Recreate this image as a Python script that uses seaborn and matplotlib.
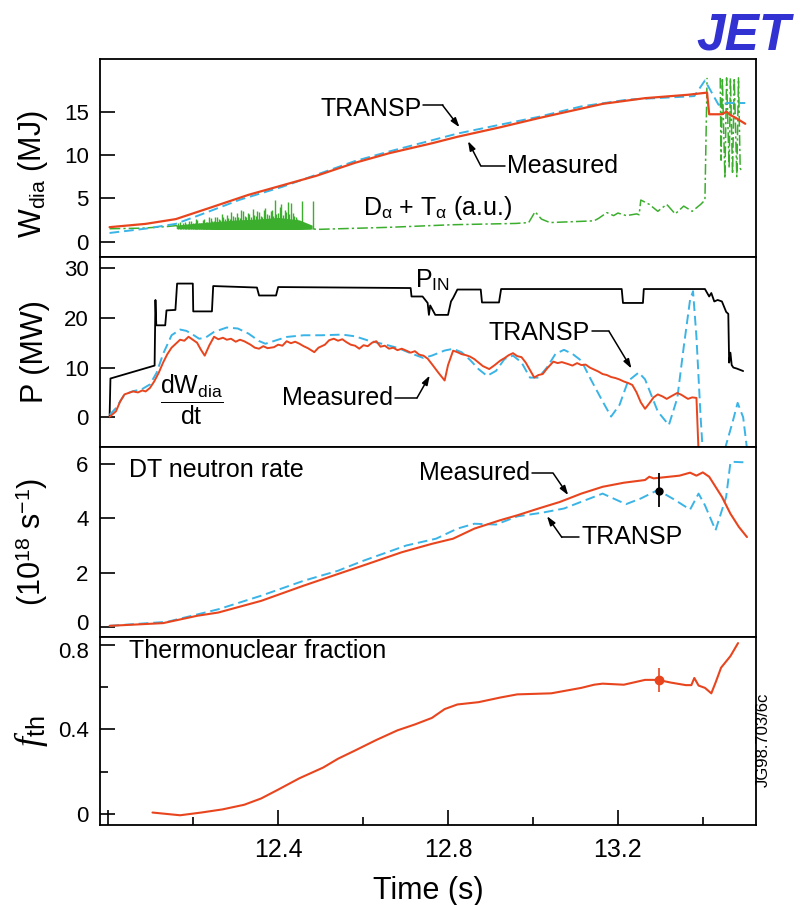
import numpy as np
import pandas as pd
import matplotlib
matplotlib.use('Agg')
from matplotlib import pyplot as plt
from matplotlib.transforms import ScaledTranslation
import seaborn as sns

RED = '#e8451e'
BLUE = '#3ab4e6'
GREEN = '#3cae2e'

# ---- panel 1: diamagnetic energy W_dia (MJ)
t_w_meas = [12.003, 12.088, 12.159, 12.239, 12.33, 12.41, 12.49, 12.581, 12.661, 12.762,
            12.822, 12.923, 13.013, 13.063, 13.164, 13.264, 13.365, 13.41, 13.415, 13.445,
            13.456, 13.465, 13.477, 13.50]
w_meas = [1.67, 2.05, 2.6, 3.9, 5.4, 6.5, 7.6, 9.1, 10.2, 11.35,
          12.1, 13.2, 14.25, 14.8, 15.9, 16.56, 16.95, 17.2, 14.7, 14.7,
          15.0, 14.6, 14.3, 13.6]
t_w_tr = [12.003, 12.088, 12.159, 12.22, 12.31, 12.41, 12.581, 12.661, 12.822, 12.923,
          13.013, 13.113, 13.224, 13.345, 13.38, 13.405, 13.437, 13.46, 13.50]
w_tr = [1.0, 1.5, 2.05, 3.16, 4.84, 6.33, 9.3, 10.4, 12.47, 13.5,
        14.4, 15.6, 16.4, 16.7, 16.8, 18.6, 15.8, 16.0, 16.0]

# D-alpha + T-alpha trace (a.u.)
t_da = [12.003, 12.08, 12.14, 12.16, 12.17, 12.3, 12.48, 12.49, 12.66, 12.81,
        12.96, 12.99, 13.005, 13.02, 13.04, 13.144, 13.155, 13.174, 13.19, 13.2,
        13.22, 13.244, 13.25, 13.254, 13.274, 13.294, 13.315, 13.335, 13.355, 13.375,
        13.395, 13.405, 13.41]
da = [1.49, 1.55, 1.75, 1.85, 1.6, 1.55, 1.5, 1.41, 1.65, 1.95,
      2.1, 2.2, 3.45, 2.6, 2.2, 2.4, 2.7, 3.35, 3.0, 3.3,
      3.0, 3.2, 3.1, 4.8, 4.3, 3.5, 4.3, 3.2, 4.1, 3.5,
      4.3, 4.8, 18.9]
t_da_end = [13.441, 13.443, 13.446, 13.452, 13.456, 13.462, 13.465, 13.47, 13.474, 13.48,
            13.484, 13.488, 13.491]
da_end = [18.9, 9.4, 18.9, 7.3, 18.9, 8.5, 18.9, 7.8, 18.9, 7.5,
          18.9, 8.5, 8.1]
# noisy ELM band 12.16-12.48 s: envelope plus individual spikes
t_da_env = [12.16, 12.2, 12.25, 12.3, 12.35, 12.4, 12.45, 12.48]
da_env_lo = [1.5, 1.45, 1.4, 1.4, 1.4, 1.4, 1.4, 1.45]
da_env_hi = [1.9, 2.1, 2.3, 2.5, 2.6, 2.8, 2.5, 1.9]
t_da_band = [12.165, 12.169, 12.172, 12.176, 12.18, 12.184, 12.187, 12.191, 12.195, 12.199,
             12.203, 12.207, 12.21, 12.214, 12.218, 12.222, 12.226, 12.23, 12.233, 12.237,
             12.241, 12.245, 12.249, 12.252, 12.256, 12.26, 12.264, 12.268, 12.271, 12.275,
             12.279, 12.283, 12.287, 12.29, 12.294, 12.298, 12.302, 12.306, 12.309, 12.313,
             12.317, 12.321, 12.325, 12.328, 12.332, 12.336, 12.34, 12.344, 12.347, 12.351,
             12.355, 12.359, 12.363, 12.366, 12.37, 12.374, 12.378, 12.382, 12.385, 12.389,
             12.392, 12.396, 12.40, 12.404, 12.407, 12.411, 12.415, 12.419, 12.422, 12.426,
             12.43, 12.434, 12.438, 12.442, 12.445, 12.457, 12.482]
da_band = [2.1, 2.3, 1.9, 2.2, 2.3, 2.0, 2.0, 2.4, 2.4, 2.1,
           2.2, 2.6, 2.5, 2.2, 2.1, 2.5, 2.6, 2.3, 2.3, 2.8,
           2.7, 2.4, 2.4, 2.9, 2.9, 2.6, 2.5, 3.2, 2.8, 2.6,
           3.1, 2.7, 2.6, 3.4, 3.0, 2.8, 3.3, 2.9, 2.7, 3.6,
           3.5, 3.0, 2.9, 3.3, 3.2, 2.9, 3.8, 3.1, 3.0, 3.5,
           3.4, 3.0, 2.8, 3.7, 3.9, 3.2, 3.1, 3.5, 3.6, 3.0,
           4.8, 3.2, 3.3, 4.0, 4.3, 3.1, 3.6, 3.4, 4.6, 3.2,
           4.5, 3.3, 3.0, 2.8, 2.6, 4.7, 4.7]

# ---- panel 2: power (MW)
t_pin = [12.003, 12.005, 12.109, 12.111, 12.113, 12.134, 12.137, 12.158, 12.162, 12.199,
         12.2, 12.244, 12.247, 12.35, 12.355, 12.395, 12.40, 12.712, 12.714, 12.74,
         12.752, 12.755, 12.758, 12.77, 12.80, 12.807, 12.812, 12.822, 12.877, 12.88,
         12.92, 12.925, 13.209, 13.212, 13.259, 13.261, 13.405, 13.415, 13.42, 13.427,
         13.435, 13.445, 13.455, 13.46, 13.462, 13.465, 13.468, 13.472, 13.48, 13.495]
p_in = [0, 7.8, 10.4, 23.6, 18.5, 18.5, 21.5, 21.6, 26.9, 26.9,
        21.3, 21.3, 26.4, 26.1, 24.5, 24.5, 26.2, 26.0, 24.3, 24.3,
        23.0, 20.6, 22.5, 20.6, 20.6, 23.3, 24.0, 25.7, 25.7, 23.1,
        23.1, 25.8, 25.8, 23.0, 23.0, 25.8, 25.8, 24.3, 25.0, 23.3,
        23.6, 23.3, 21.2, 20.8, 11.0, 13.0, 10.5, 10.0, 9.8, 9.3]
t_dw_meas = [12.003, 12.01, 12.018, 12.028, 12.038, 12.048, 12.058, 12.07, 12.08, 12.088,
             12.098, 12.108, 12.119, 12.129, 12.139, 12.149, 12.159, 12.169, 12.179, 12.189,
             12.199, 12.209, 12.218, 12.227, 12.238, 12.249, 12.259, 12.27, 12.279, 12.289,
             12.30, 12.31, 12.32, 12.335, 12.345, 12.355, 12.365, 12.375, 12.39, 12.40,
             12.41, 12.42, 12.43, 12.44, 12.45, 12.46, 12.47, 12.485, 12.495, 12.51,
             12.52, 12.531, 12.541, 12.551, 12.561, 12.571, 12.581, 12.591, 12.601, 12.611,
             12.621, 12.631, 12.641, 12.651, 12.661, 12.671, 12.681, 12.691, 12.702, 12.712,
             12.722, 12.732, 12.742, 12.752, 12.762, 12.777, 12.792, 12.80, 12.812, 12.822,
             12.832, 12.842, 12.852, 12.862, 12.872, 12.882, 12.897, 12.91, 12.923, 12.933,
             12.943, 12.953, 12.963, 12.973, 12.983, 12.993, 13.003, 13.013, 13.023, 13.033,
             13.048, 13.058, 13.068, 13.083, 13.093, 13.104, 13.114, 13.124, 13.134, 13.144,
             13.154, 13.164, 13.174, 13.184, 13.194, 13.204, 13.214, 13.224, 13.234, 13.244,
             13.254, 13.264, 13.274, 13.284, 13.294, 13.305, 13.315, 13.325, 13.34, 13.35,
             13.365, 13.375, 13.385, 13.39]
dw_meas = [0.1, 0.6, 1.2, 3.2, 4.6, 4.9, 5.2, 5.0, 5.4, 5.2,
           5.9, 7.2, 9.0, 11.0, 12.7, 14.0, 14.8, 15.6, 15.4, 16.2,
           15.6, 15.0, 13.6, 12.4, 14.5, 16.2, 15.7, 16.0, 15.6, 15.8,
           15.2, 15.6, 15.3, 14.6, 14.0, 13.8, 14.3, 13.9, 14.1, 14.6,
           14.4, 15.3, 14.9, 15.2, 14.8, 14.3, 13.9, 13.1, 14.0, 14.6,
           15.5, 15.8, 15.4, 15.7, 15.1, 14.6, 14.4, 13.8, 14.5, 14.3,
           15.0, 15.3, 14.2, 14.4, 13.8, 14.0, 13.5, 13.8, 13.4, 13.0,
           13.3, 12.6, 12.4, 11.8, 10.7, 9.0, 7.4, 10.5, 13.4, 13.1,
           12.7, 12.5, 12.2, 11.7, 11.0, 10.3, 9.7, 10.5, 11.4, 11.9,
           12.5, 12.9, 12.3, 12.1, 11.0, 9.5, 8.0, 8.5, 8.7, 9.8,
           11.2, 10.9, 11.1, 10.7, 10.4, 10.9, 10.5, 10.6, 10.0, 9.6,
           9.2, 8.7, 8.5, 8.1, 7.9, 7.6, 7.2, 6.9, 6.5, 5.0,
           3.0, 1.7, 2.8, 4.0, 4.6, 4.2, 3.7, 4.2, 4.9, 4.5,
           3.7, 4.0, 3.9, -7.0]
t_dw_tr = [12.003, 12.018, 12.038, 12.058, 12.078, 12.098, 12.114, 12.129, 12.149, 12.169,
           12.184, 12.199, 12.214, 12.229, 12.249, 12.279, 12.305, 12.33, 12.355, 12.37,
           12.39, 12.42, 12.46, 12.501, 12.551, 12.581, 12.611, 12.651, 12.681, 12.712,
           12.742, 12.762, 12.792, 12.812, 12.832, 12.852, 12.872, 12.892, 12.913, 12.933,
           12.953, 12.973, 12.993, 13.013, 13.033, 13.053, 13.073, 13.093, 13.114, 13.134,
           13.164, 13.184, 13.204, 13.224, 13.249, 13.264, 13.294, 13.32, 13.34, 13.355,
           13.37, 13.377, 13.385, 13.395, 13.40, 13.45, 13.47, 13.482, 13.495, 13.505]
dw_tr = [0.48, 1.84, 4.57, 5.25, 5.59, 6.61, 9.0, 12.75, 16.5, 17.65,
         17.38, 16.63, 15.8, 16.02, 17.18, 18.06, 17.86, 16.84, 15.34, 14.79,
         15.34, 16.16, 16.5, 16.5, 16.63, 16.29, 15.47, 14.66, 13.97, 12.88,
         11.93, 12.41, 13.43, 13.77, 13.09, 11.52, 9.68, 8.32, 9.34, 11.72,
         12.41, 11.04, 7.98, 7.98, 10.02, 12.75, 13.57, 12.75, 11.38, 7.98,
         3.2, 0.14, 2.52, 7.29, 9.0, 7.63, 1.16, -1.57, 3.89, 14.11,
         23.65, 25.36, 16.16, -0.2, -7.0, -7.0, -1.0, 2.9, 0.0, -7.0]

# ---- panel 3: DT neutron rate (1e18 /s)
t_n_meas = [12.003, 12.129, 12.209, 12.259, 12.36, 12.46, 12.541, 12.611, 12.691, 12.762,
            12.812, 12.862, 12.923, 12.963, 13.013, 13.063, 13.114, 13.164, 13.214, 13.264,
            13.274, 13.284, 13.345, 13.37, 13.385, 13.40, 13.415, 13.445, 13.465, 13.485,
            13.504]
n_meas = [0.04, 0.14, 0.41, 0.53, 0.96, 1.52, 1.95, 2.32, 2.75, 3.06,
          3.25, 3.62, 3.93, 4.11, 4.36, 4.6, 4.91, 5.16, 5.31, 5.41,
          5.53, 5.47, 5.57, 5.68, 5.57, 5.69, 5.53, 4.79, 4.17, 3.68,
          3.31]
t_n_tr = [12.003, 12.139, 12.259, 12.36, 12.46, 12.541, 12.601, 12.702, 12.772, 12.822,
          12.862, 12.913, 12.963, 13.023, 13.073, 13.124, 13.164, 13.219, 13.254, 13.294,
          13.335, 13.37, 13.39, 13.405, 13.43, 13.455, 13.465, 13.47, 13.50]
n_tr = [0.04, 0.19, 0.65, 1.15, 1.70, 2.07, 2.44, 3.0, 3.25, 3.62,
        3.8, 3.77, 4.07, 4.21, 4.36, 4.67, 4.91, 4.52, 4.73, 5.04,
        4.67, 4.32, 4.91, 4.48, 3.56, 4.79, 6.05, 6.08, 6.06]
t_n_err, n_err, n_err_lo, n_err_hi = 13.297, 5.0, 0.6, 0.68

# ---- panel 4: thermonuclear fraction
t_fth = [12.104, 12.169, 12.219, 12.269, 12.32, 12.36, 12.40, 12.45, 12.506, 12.541,
         12.581, 12.631, 12.681, 12.722, 12.762, 12.792, 12.822, 12.872, 12.923, 12.963,
         13.043, 13.114, 13.144, 13.164, 13.214, 13.264, 13.294, 13.325, 13.36, 13.373,
         13.38, 13.39, 13.405, 13.42, 13.43, 13.443, 13.465, 13.483]
fth = [0.005, -0.008, 0.005, 0.02, 0.042, 0.072, 0.114, 0.168, 0.219, 0.261,
       0.30, 0.35, 0.396, 0.424, 0.455, 0.497, 0.519, 0.53, 0.552, 0.567,
       0.572, 0.598, 0.613, 0.618, 0.613, 0.636, 0.636, 0.623, 0.611, 0.611,
       0.645, 0.609, 0.598, 0.572, 0.623, 0.694, 0.749, 0.811]
t_f_err, f_err, f_err_lo, f_err_hi = 13.297, 0.636, 0.059, 0.058


sns.set_style('ticks')
plt.rcParams['font.family'] = ['Liberation Sans', 'DejaVu Sans']
plt.rcParams['mathtext.fontset'] = 'custom'
plt.rcParams['mathtext.rm'] = 'Liberation Sans'
plt.rcParams['mathtext.it'] = 'Liberation Serif:italic'
plt.rcParams['mathtext.bf'] = 'Liberation Sans:bold'
for k in ['text.color', 'axes.labelcolor', 'xtick.color', 'ytick.color', 'axes.edgecolor']:
    plt.rcParams[k] = 'black'


def line(ax, t, y, color, lw=1.4, ls='-'):
    sns.lineplot(x=t, y=y, ax=ax, color=color, linewidth=lw, linestyle=ls,
                 estimator=None, sort=False, legend=False)


def leader(ax, p0, p1, p2):
    # horizontal tail from the label, then an arrow to the curve
    ax.plot([p0[0], p1[0]], [p0[1], p1[1]], color='black', lw=1.1)
    ax.annotate('', xy=p2, xytext=p1,
                arrowprops=dict(arrowstyle='-|>,head_length=0.55,head_width=0.18',
                                color='black', lw=1.1, shrinkA=0, shrinkB=0))


DASH = (0, (5, 2.5))
DASHDOT = (0, (7, 2, 1.5, 2))
TXT = 18

fig, axes = plt.subplots(4, 1, figsize=(8.05, 9.05), dpi=100, sharex=True,
                         gridspec_kw={'height_ratios': [198, 189, 190, 188], 'hspace': 0})
fig.subplots_adjust(left=0.124, right=0.939, top=0.935, bottom=0.088)
ax1, ax2, ax3, ax4 = axes

# panel 1
ax1.fill_between(t_da_env, da_env_lo, da_env_hi, color=GREEN, lw=0)
ax1.vlines(t_da_band, 1.4, da_band, color=GREEN, lw=1.0)
line(ax1, t_da, da, GREEN, lw=1.1, ls=DASHDOT)
line(ax1, t_da_end, da_end, GREEN, lw=1.1, ls=DASHDOT)
line(ax1, t_w_tr, w_tr, BLUE, lw=1.4, ls=DASH)
line(ax1, t_w_meas, w_meas, RED, lw=1.6)
ax1.set_ylim(-1.8, 21.1)
ax1.set_yticks([0, 5, 10, 15])
ax1.text(12.737, 15.3, 'TRANSP', ha='right', va='center', fontsize=TXT)
leader(ax1, (12.742, 15.75), (12.787, 15.75), (12.827, 13.2))
ax1.text(12.94, 8.75, 'Measured', ha='left', va='center', fontsize=TXT)
leader(ax1, (12.934, 8.75), (12.877, 8.75), (12.847, 11.6))
ax1.text(12.60, 3.9, r'D$_{\mathrm{\alpha}}$ + T$_{\mathrm{\alpha}}$ (a.u.)',
         ha='left', va='center', fontsize=TXT)
ax1.set_ylabel(r'W$_{\mathrm{dia}}$ (MJ)', fontsize=22)

# panel 2
line(ax2, t_pin, p_in, 'black', lw=1.3)
line(ax2, t_dw_tr, dw_tr, BLUE, lw=1.4, ls=DASH)
line(ax2, t_dw_meas, dw_meas, RED, lw=1.4)
ax2.set_ylim(-5.9, 32.2)
ax2.set_yticks([0, 10, 20, 30])
ax2.text(12.722, 27.6, r'P$_{\mathrm{IN}}$', ha='left', va='center', fontsize=TXT)
ax2.text(13.134, 17.0, 'TRANSP', ha='right', va='center', fontsize=TXT)
leader(ax2, (13.139, 17.3), (13.179, 17.3), (13.232, 9.8))
ax2.text(12.671, 3.9, 'Measured', ha='right', va='center', fontsize=TXT)
leader(ax2, (12.676, 3.9), (12.727, 3.9), (12.757, 8.4))
ax2.text(12.196, 3.4, r'$\dfrac{\mathrm{dW_{dia}}}{\mathrm{dt}}$', ha='center', va='center',
         fontsize=TXT)
ax2.set_ylabel('P (MW)', fontsize=22)

# panel 3
line(ax3, t_n_tr, n_tr, BLUE, lw=1.4, ls=DASH)
line(ax3, t_n_meas, n_meas, RED, lw=1.5)
ax3.errorbar([t_n_err], [n_err], yerr=[[n_err_lo], [n_err_hi]], fmt='o', color='black',
             ms=5, elinewidth=1.3, capsize=0)
ax3.set_ylim(-0.37, 6.64)
ax3.set_yticks([0, 2, 4, 6])
ax3.text(12.048, 5.78, 'DT neutron rate', ha='left', va='center', fontsize=TXT)
ax3.text(12.993, 5.65, 'Measured', ha='right', va='center', fontsize=TXT)
leader(ax3, (12.998, 5.65), (13.048, 5.65), (13.083, 4.85))
ax3.text(13.114, 3.3, 'TRANSP', ha='left', va='center', fontsize=TXT)
leader(ax3, (13.109, 3.3), (13.068, 3.3), (13.033, 4.08))
ax3.set_ylabel(r'(10$^{18}$ s$^{-1}$)', fontsize=22)

# panel 4
line(ax4, t_fth, fth, RED, lw=1.5)
ax4.errorbar([t_f_err], [f_err], yerr=[[f_err_lo], [f_err_hi]], fmt='o', color=RED,
             ms=6, elinewidth=1.2, capsize=0)
ax4.plot([t_f_err], [f_err], 'o', color='black', ms=2.5)
ax4.set_ylim(-0.056, 0.84)
ax4.set_yticks([0, 0.4, 0.8])
ax4.set_yticklabels(['0', '0.4', '0.8'])
ax4.set_yticks([0.2, 0.6], minor=True)
ax4.text(12.048, 0.775, 'Thermonuclear fraction', ha='left', va='center', fontsize=TXT)
ax4.set_ylabel(r'$\mathit{f}_{\mathrm{th}}$', fontsize=26)

ax4.set_xlim(11.98, 13.525)
ax4.set_xticks([12.0, 12.4, 12.8, 13.2])
ax4.set_xticklabels(['', '12.4', '12.8', '13.2'])
ax4.set_xticks([12.2, 12.6, 13.0, 13.4], minor=True)
ax4.set_xlabel('Time (s)', fontsize=22, labelpad=10)

for i, ax in enumerate(axes):
    for s in ax.spines.values():
        s.set_linewidth(1.3)
        s.set_color('black')
    ax.tick_params(axis='y', which='major', direction='in', length=11, width=1.2,
                   labelsize=16, pad=8, right=False)
    ax.tick_params(axis='y', which='minor', direction='in', length=6, width=1.2)
    ax.tick_params(axis='x', which='major', direction='in', length=11, width=1.2,
                   labelsize=18, pad=9)
    ax.tick_params(axis='x', which='minor', direction='in', length=6, width=1.2)
    if i < 3:
        ax.tick_params(axis='x', which='both', bottom=False, labelbottom=False)
    ax.yaxis.set_label_coords(-0.076, 0.42 if i == 0 else 0.5)

# the "0" of panel 3 and the "0.8" of panel 4 sit almost on top of each other:
# nudge them a few pixels apart
for ax, k, dy in [(ax3, 0, 5), (ax4, 2, -5)]:
    lab = ax.yaxis.get_major_ticks()[k].label1
    lab.set_transform(lab.get_transform() + ScaledTranslation(0, dy / 100, fig.dpi_scale_trans))

fig.text(0.982, 0.987, 'JET', ha='right', va='top', fontsize=37, fontweight='bold',
         fontstyle='italic', color='#3232d2')
fig.text(0.948, 0.182, 'JG98.703/6c', rotation=90, ha='center', va='center', fontsize=12)

fig.savefig('out.png', dpi=100)
